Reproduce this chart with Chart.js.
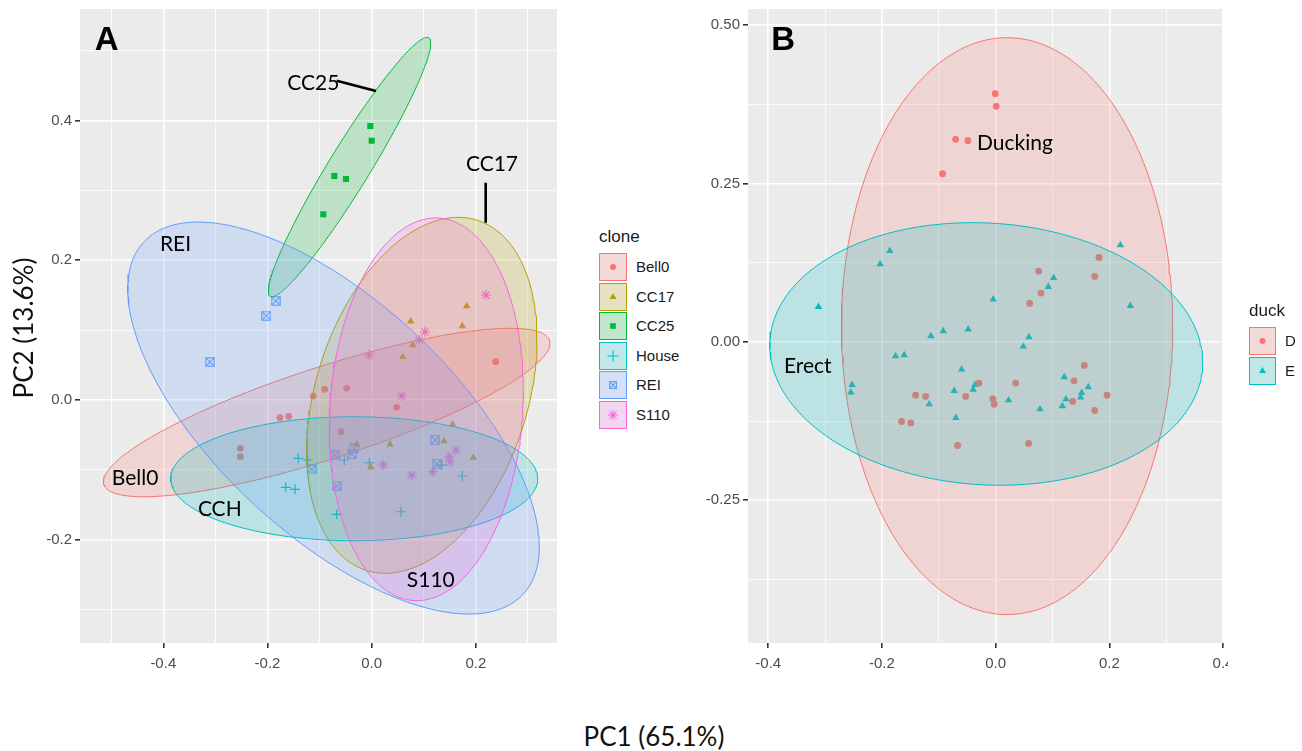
<!DOCTYPE html>
<html>
<head>
<meta charset="utf-8">
<script src="https://cdn.jsdelivr.net/npm/chart.js@4.4.1/dist/chart.umd.min.js"></script>
<style>
html,body{margin:0;padding:0;background:#fff;}
body{width:1302px;height:751px;position:relative;overflow:hidden;}
canvas{position:absolute;top:0;}
#cA{left:0;}
#cB{left:690px;}
.axt{position:absolute;font-family:Lato,"Open Sans",sans-serif;font-size:26px;color:#111;white-space:nowrap;line-height:30px;}
.lt{position:absolute;font-family:"Liberation Sans",Arial,sans-serif;color:#1a1a1a;white-space:nowrap;}
.key{position:absolute;box-sizing:border-box;background:#F2F2F2;}
.key canvas{position:absolute;left:0;top:0;}
</style>
</head>
<body>
<canvas id="cA" width="580" height="700" style="width:580px;height:700px"></canvas>
<canvas id="cB" width="612" height="700" style="width:612px;height:700px"></canvas>
<div class="axt" id="ytitle" style="left:-77px;top:313px;width:200px;text-align:center;transform:rotate(-90deg);">PC2 (13.6%)</div>
<div class="axt" id="xtitle" style="left:554px;top:721px;width:200px;text-align:center;">PC1 (65.1%)</div>
<div id="clipcover" style="position:absolute;left:1228px;top:648px;width:74px;height:30px;background:#fff;"></div>
<div id="legends"></div>
<script>
// ---------------- data: panel A (clone) ----------------
const cloneNames = ['Bell0','CC17','CC25','House','REI','S110'];
const cloneColors = ['#F8766D','#B79F00','#00BA38','#00BFC4','#619CFF','#F564E3'];

const bell0X = [0.238,-0.1121,-0.0902,-0.048,0.048,-0.176,-0.1593,-0.0589,-0.2522,-0.2522];
const bell0Y = [0.0548,0.0057,0.0153,0.0167,-0.0104,-0.0253,-0.0233,-0.0453,-0.0691,-0.0811];
const cc17X = [0.1823,0.0749,0.1739,0.0787,0.0595,0.1555,0.1388,0.0351,-0.0288,0.195,-0.0019];
const cc17Y = [0.1345,0.1126,0.1059,0.0787,0.0619,-0.0348,-0.0587,-0.0634,-0.0634,-0.0825,-0.0963];
const cc25X = [-0.0027,0.0,-0.0718,-0.0493,-0.0929];
const cc25Y = [0.392,0.371,0.3205,0.3162,0.2657];
const houseX = [-0.1409,-0.1228,-0.0526,-0.0046,0.1344,0.1739,-0.1651,-0.1472,-0.0672,0.0562];
const houseY = [-0.0834,-0.0858,-0.0858,-0.0897,-0.093,-0.1087,-0.1249,-0.1278,-0.1635,-0.1598];
const reiX = [-0.1843,-0.2023,-0.3104,0.1215,0.1248,-0.0704,-0.0384,-0.034,-0.1152,-0.0672];
const reiY = [0.1416,0.1206,0.0544,-0.0572,-0.0916,-0.0791,-0.0773,-0.0691,-0.0991,-0.1226];
const s110X = [0.2194,0.1023,0.0914,-0.0046,0.0576,0.0223,0.0768,0.1171,0.1489,0.1503,0.1618];
const s110Y = [0.1502,0.0977,0.0858,0.0644,0.0057,-0.093,-0.1073,-0.1026,-0.0811,-0.0883,-0.0715];

// ellipse parameters (centre, half-ranges, correlation) per clone
const ellA_cx = [-0.0864, 0.0962, -0.0426, -0.0336, -0.0733, 0.1048];
const ellA_cy = [-0.0179, 0.0067, 0.3333, -0.1126, -0.0258, -0.0133];
const ellA_rx = [0.4286, 0.2211, 0.1559, 0.3522, 0.395, 0.1862];
const ellA_ry = [0.1205, 0.2546, 0.1856, 0.0887, 0.2804, 0.2737];
const ellA_rho = [0.821, 0.316, 0.955, 0.0, -0.658, 0.097];

// axis ticks panel A
const aXMajor = [-0.4,-0.2,0.0,0.2];
const aXLabels = ['-0.4','-0.2','0.0','0.2'];
const aXMinor = [-0.5,-0.3,-0.1,0.1,0.3];
const aYMajor = [-0.2,0.0,0.2,0.4];
const aYLabels = ['-0.2','0.0','0.2','0.4'];
const aYMinor = [-0.3,-0.1,0.1,0.3,0.5];

// annotations panel A
const annAText = ['A','CC25','CC17','REI','Bell0','CCH','S110'];
const annAX = [-0.5086,-0.1121,0.2309,-0.3766,-0.4543,-0.2916,0.1134];
const annAY = [0.5174,0.4549,0.339,0.2242,-0.1109,-0.1552,-0.2561];
const segAX1 = [-0.0672, 0.2188];
const segAY1 = [0.4568, 0.3109];
const segAX2 = [0.0083, 0.2188];
const segAY2 = [0.442, 0.2536];

// ---------------- data: panel B (duck) ----------------
const duckNames = ['D','E'];
const duckColors = ['#F8766D','#00BFC4'];
const duckDX = [-0.0007,0.0011,-0.0704,-0.0488,-0.0933,0.1819,0.0757,0.1743,0.0798,0.0599,0.156,0.0352,0.1379,-0.0294,-0.1408,-0.1232,-0.0528,-0.0048,-0.0025,0.1356,0.196,0.1743,-0.1655,-0.1491,-0.0669,0.0581];
const duckDY = [0.3916,0.3717,0.3196,0.3174,0.2653,0.1333,0.1116,0.1033,0.0769,0.0606,-0.0373,-0.0652,-0.0616,-0.0652,-0.0842,-0.0862,-0.0862,-0.09,-0.0984,-0.0941,-0.0842,-0.1083,-0.1257,-0.1279,-0.1636,-0.1604];
const duckEX = [0.2194,-0.1861,-0.2032,0.1021,0.0926,-0.0042,-0.3116,0.237,-0.1139,-0.0923,-0.0482,0.0586,0.0486,-0.1761,-0.1609,-0.0599,0.1208,-0.2525,-0.2548,-0.0364,-0.0394,-0.0729,0.163,0.1514,0.1238,0.1496,0.0229,-0.1169,0.1173,0.078,-0.0699];
const duckEY = [0.1527,0.1437,0.1227,0.1011,0.0868,0.067,0.0553,0.0568,0.009,0.0169,0.0196,0.0074,-0.0073,-0.0226,-0.021,-0.0436,-0.0557,-0.0679,-0.0799,-0.0679,-0.0752,-0.0774,-0.0715,-0.0805,-0.0905,-0.0878,-0.0921,-0.0984,-0.1015,-0.1063,-0.12];

const ellB_cx = [0.0202, -0.0165];
const ellB_cy = [0.0248, -0.0191];
const ellB_rx = [0.2914, 0.3808];
const ellB_ry = [0.4552, 0.2072];
const ellB_rho = [0.0, -0.064];

const bXMajor = [-0.4,-0.2,0.0,0.2,0.4];
const bXLabels = ['-0.4','-0.2','0.0','0.2','0.4'];
const bXMinor = [-0.3,-0.1,0.1,0.3];
const bYMajor = [-0.25,0.0,0.25,0.5];
const bYLabels = ['-0.25','0.00','0.25','0.50'];
const bYMinor = [-0.375,-0.125,0.125,0.375];

const annBText = ['B','Ducking','Erect'];
const annBX = [-0.3739,0.034,-0.3305];
const annBY = [0.4791,0.3153,-0.0373];

// ---------------- helpers ----------------
function hexA(hex, a){
  const r=parseInt(hex.slice(1,3),16), g=parseInt(hex.slice(3,5),16), b=parseInt(hex.slice(5,7),16);
  return 'rgba('+r+','+g+','+b+','+a+')';
}
function toXY(xs, ys){ return xs.map((x,i)=>({x:x, y:ys[i]})); }
function ellipsePoints(cx, cy, rx, ry, rho, n){
  const pts=[]; const s=Math.sqrt(1-rho*rho);
  for(let k=0;k<=n;k++){
    const t=2*Math.PI*k/n;
    pts.push({x: cx + rx*Math.cos(t), y: cy + ry*(rho*Math.cos(t) + s*Math.sin(t))});
  }
  return pts;
}
function drawShape(ctx, style, x, y, r, color){
  ctx.save();
  ctx.fillStyle=color; ctx.strokeStyle=color; ctx.lineWidth=1.1;
  ctx.beginPath();
  if(style==='circle'){ ctx.arc(x,y,r,0,Math.PI*2); ctx.fill(); }
  else if(style==='triangle'){
    ctx.moveTo(x, y-r); ctx.lineTo(x+r*0.866, y+r*0.5); ctx.lineTo(x-r*0.866, y+r*0.5); ctx.closePath(); ctx.fill();
  }
  else if(style==='rect'){ ctx.fillRect(x-r*0.707, y-r*0.707, r*1.414, r*1.414); }
  else if(style==='cross'){ ctx.moveTo(x-r,y); ctx.lineTo(x+r,y); ctx.moveTo(x,y-r); ctx.lineTo(x,y+r); ctx.stroke(); }
  else if(style==='rectx'){
    const h=r*0.75; ctx.strokeRect(x-h,y-h,2*h,2*h);
    ctx.moveTo(x-h,y-h); ctx.lineTo(x+h,y+h); ctx.moveTo(x+h,y-h); ctx.lineTo(x-h,y+h); ctx.stroke();
  }
  else if(style==='star'){
    const d=r*0.707;
    ctx.moveTo(x-r,y); ctx.lineTo(x+r,y); ctx.moveTo(x,y-r); ctx.lineTo(x,y+r);
    ctx.moveTo(x-d,y-d); ctx.lineTo(x+d,y+d); ctx.moveTo(x+d,y-d); ctx.lineTo(x-d,y+d); ctx.stroke();
  }
  ctx.restore();
}
// custom "square with x" marker for REI
const reiImg = document.createElement('canvas');
reiImg.width=10; reiImg.height=10;
drawShape(reiImg.getContext('2d'), 'rectx', 5, 5, 5.6, '#619CFF');

function isIn(v, arr){ return arr.some(m=>Math.abs(m-v)<1e-9); }
function makeAxis(min, max, majors, labels, minors, horizontal){
  const all = majors.concat(minors).sort((a,b)=>a-b);
  return {
    type:'linear', min:min, max:max,
    afterBuildTicks: (s)=>{ s.ticks = all.map(v=>({value:v})); },
    afterFit: (s)=>{
      if(horizontal){ s.height=30; } else { s.width=50; }
      s.paddingTop=0; s.paddingBottom=0; s.paddingLeft=0; s.paddingRight=0;
    },
    ticks:{
      autoSkip:false, maxRotation:0, minRotation:0,
      padding: horizontal ? 7 : 3,
      color:'#4D4D4D',
      font:{family:'"Liberation Sans", Arial, sans-serif', size:15},
      callback:(v)=>{ const i=majors.findIndex(m=>Math.abs(m-v)<1e-9); return i>=0 ? labels[i] : ''; }
    },
    grid:{
      color:'#FFFFFF',
      lineWidth:(c)=> (c.tick && isIn(c.tick.value, majors)) ? 1.6 : 0.8,
      tickLength:5,
      tickColor:(c)=> (c.tick && isIn(c.tick.value, majors)) ? '#333333' : 'rgba(0,0,0,0)',
      drawTicks:true
    },
    border:{display:false}
  };
}
const bgPlugin = {
  id:'panelBg',
  beforeDraw(chart){
    const a=chart.chartArea, ctx=chart.ctx;
    ctx.save(); ctx.fillStyle='#EBEBEB'; ctx.fillRect(a.left,a.top,a.right-a.left,a.bottom-a.top); ctx.restore();
  }
};
function annotPlugin(texts, xs, ys, s1x, s1y, s2x, s2y){
  return {
    id:'annot',
    afterDatasetsDraw(chart){
      const ctx=chart.ctx, sx=chart.scales.x, sy=chart.scales.y;
      ctx.save();
      ctx.strokeStyle='#000'; ctx.lineWidth=2.6;
      for(let i=0;i<s1x.length;i++){
        ctx.beginPath();
        ctx.moveTo(sx.getPixelForValue(s1x[i]), sy.getPixelForValue(s1y[i]));
        ctx.lineTo(sx.getPixelForValue(s2x[i]), sy.getPixelForValue(s2y[i]));
        ctx.stroke();
      }
      ctx.textAlign='center'; ctx.textBaseline='alphabetic'; ctx.fillStyle='#000';
      for(let i=0;i<texts.length;i++){
        const bold = (i===0);
        const size = bold ? 33 : 21;
        ctx.font = bold ? 'bold 33px "Liberation Sans", Arial, sans-serif' : '21px Lato, "Open Sans", sans-serif';
        const px=sx.getPixelForValue(xs[i]), py=sy.getPixelForValue(ys[i]) + size*0.36;
        ctx.fillText(texts[i], px, py);
      }
      ctx.restore();
    }
  };
}
const baseOpts = {
  responsive:false, devicePixelRatio:1, animation:false, events:[],
  plugins:{legend:{display:false}, tooltip:{enabled:false}}
};

// ---------------- chart A ----------------
const aXs=[bell0X,cc17X,cc25X,houseX,reiX,s110X];
const aYs=[bell0Y,cc17Y,cc25Y,houseY,reiY,s110Y];
const aStyles=['circle','triangle','rect','cross',reiImg,'star'];
const aRadii=[3.4,4.3,4.3,5,5,5];
const aBW=[0,0,0,1.2,0,1.1];
const dsA=[];
for(let i=0;i<6;i++){
  dsA.push({type:'scatter', data:toXY(aXs[i],aYs[i]), pointStyle:aStyles[i], pointRadius:aRadii[i],
    backgroundColor:cloneColors[i], borderColor:cloneColors[i], borderWidth:aBW[i], order:10});
}
for(let i=0;i<6;i++){
  dsA.push({type:'line', data:ellipsePoints(ellA_cx[i],ellA_cy[i],ellA_rx[i],ellA_ry[i],ellA_rho[i],240),
    borderColor:cloneColors[i], backgroundColor:hexA(cloneColors[i],0.2), borderWidth:1, pointRadius:0,
    fill:'shape', tension:0, order:6-i});
}
new Chart(document.getElementById('cA'), {
  type:'scatter',
  data:{datasets:dsA},
  options:Object.assign({}, baseOpts, {
    layout:{padding:{left:30,right:23,top:9,bottom:27}},
    scales:{
      x:makeAxis(-0.5599,0.3557,aXMajor,aXLabels,aXMinor,true),
      y:makeAxis(-0.3476,0.5594,aYMajor,aYLabels,aYMinor,false)
    }
  }),
  plugins:[bgPlugin, annotPlugin(annAText,annAX,annAY,segAX1,segAY1,segAX2,segAY2)]
});

// ---------------- chart B ----------------
const bXs=[duckDX,duckEX], bYs=[duckDY,duckEY];
const bStyles=['circle','triangle'], bRadii=[3.4,4.3];
const dsB=[];
for(let i=0;i<2;i++){
  dsB.push({type:'scatter', data:toXY(bXs[i],bYs[i]), pointStyle:bStyles[i], pointRadius:bRadii[i],
    backgroundColor:duckColors[i], borderColor:duckColors[i], borderWidth:0, order:10});
}
for(let i=0;i<2;i++){
  dsB.push({type:'line', data:ellipsePoints(ellB_cx[i],ellB_cy[i],ellB_rx[i],ellB_ry[i],ellB_rho[i],240),
    borderColor:duckColors[i], backgroundColor:hexA(duckColors[i],0.2), borderWidth:1, pointRadius:0,
    fill:'shape', tension:0, order:2-i});
}
new Chart(document.getElementById('cB'), {
  type:'scatter',
  data:{datasets:dsB},
  options:Object.assign({}, baseOpts, {
    layout:{padding:{left:8,right:79,top:9,bottom:27}},
    scales:{
      x:makeAxis(-0.4356,0.4,bXMajor,bXLabels,bXMinor,true),
      y:makeAxis(-0.4753,0.5253,bYMajor,bYLabels,bYMinor,false)
    }
  }),
  plugins:[bgPlugin, annotPlugin(annBText,annBX,annBY,[],[],[],[])]
});

// ---------------- legends (HTML) ----------------
const legendIconStyles=['circle','triangle','rect','cross','rectx','star'];
const legendIconR=[3,4,4,5.5,4.5,5];
function buildLegend(host, title, left, titleTop, keyTop, step, kw, kh, names, colors, styles, radii){
  const t=document.createElement('div'); t.className='lt';
  t.style.cssText='left:'+left+'px;top:'+titleTop+'px;font-size:17px;line-height:20px;';
  t.textContent=title; host.appendChild(t);
  names.forEach((n,i)=>{
    const k=document.createElement('div'); k.className='key';
    k.style.cssText='left:'+left+'px;top:'+(keyTop+i*step)+'px;width:'+kw+'px;height:'+kh+'px;';
    const inner=document.createElement('div');
    inner.style.cssText='position:absolute;left:0;top:0;right:0;bottom:0;box-sizing:border-box;border:1px solid '+colors[i]+';background:'+hexA(colors[i],0.2)+';';
    k.appendChild(inner);
    const c=document.createElement('canvas'); c.width=kw; c.height=kh;
    drawShape(c.getContext('2d'), styles[i], kw/2, kh/2, radii[i], colors[i]);
    k.appendChild(c);
    host.appendChild(k);
    const l=document.createElement('div'); l.className='lt';
    l.style.cssText='left:'+(left+kw+9)+'px;top:'+(keyTop+i*step)+'px;height:'+kh+'px;line-height:'+kh+'px;font-size:15px;';
    l.textContent=n; host.appendChild(l);
  });
}
const host=document.getElementById('legends');
buildLegend(host,'clone',599,227,253,29.5,28,28,cloneNames,cloneColors,legendIconStyles,legendIconR);
buildLegend(host,'duck',1249,301,327,29.5,27,28,duckNames,duckColors,['circle','triangle'],[3,4]);
</script>
</body>
</html>
